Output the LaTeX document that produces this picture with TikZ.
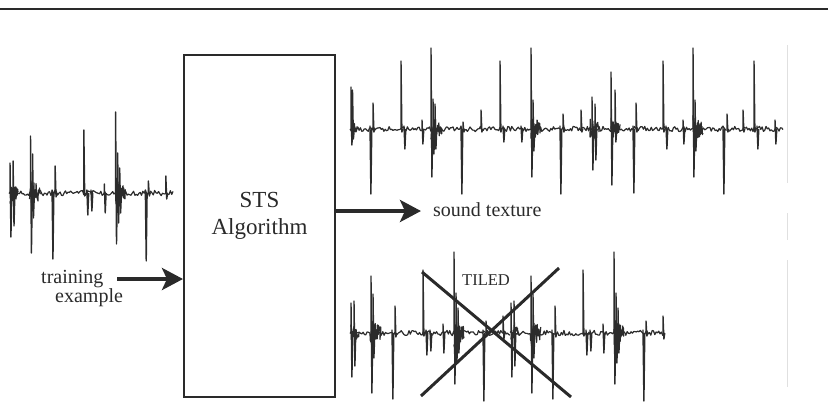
\documentclass[tikz,border=0pt]{standalone}
\usepackage{fontspec}
\setmainfont{Liberation Serif}
\usetikzlibrary{arrows.meta}
\definecolor{ink}{HTML}{2A2A2A}
\definecolor{wv}{HTML}{2C2C2C}
\newcommand\wnoise[4]{%
  \pgfmathtruncatemacro\wns{((#2)-(#1))/1.3}%
  \draw[wave] plot[domain=#1:#2, samples=\wns] (\x,{#3+#4*rand});}
\newcommand\wburst[4]{%
  \pgfmathsetmacro\wbe{#1+#3}%
  \pgfmathtruncatemacro\wnb{#3/0.3}%
  \draw[wave] plot[domain=#1:\wbe, samples=\wnb] (\x,{#2+#4*(1-0.6*(\x-#1)/#3)*rand});}
\newcommand\wspk[4]{\draw[spk] (#1,#2) -- (#1,#2-#3) -- (#1+0.9,#2+#4) -- (#1+1.8,#2);}
\newcommand\trainwave[4]{%
  \pgfmathsetmacro\twe{#1+#4}%
  \wnoise{#1}{\twe}{#2}{2.6}%
  \foreach \bx/\bw/\ba in {1/8/11,20/11/15,104/10/15}{%
    \pgfmathsetmacro\bxx{#1+\bx/160*#3}\wburst{\bxx}{#2}{\bw}{\ba}}%
  \foreach \sx/\su/\sd in {1/30/44, 4/32/33, 21/57/60, 23/39/25, 42/3/66, 45/27/4,
      73/63/3, 76/3/22, 80/3/18, 93/9/20, 104/81/51, 106/40/30, 108/25/20,
      133/3/68, 136/12/3, 153/17/6}{%
    \pgfmathsetmacro\sxx{#1+\sx/160*#3}\wspk{\sxx}{#2}{\su}{\sd}}%
}
\begin{document}
\begin{tikzpicture}[x=1pt,y=-1pt,
  wave/.style={wv,line width=1.2pt,line join=round},
  spk/.style={wv,line width=1.4pt,line join=round},
  rule/.style={ink,line width=1.3pt},
  algbox/.style={draw=ink,line width=2pt,minimum width=151pt,minimum height=342pt,inner sep=0pt},
  bigarrow/.style={ink,line width=4pt,-{Stealth[length=21pt,width=22pt,inset=5pt]}},
  lbl/.style={ink,inner sep=0pt,font=\fontsize{20}{20}\selectfont},
  biglbl/.style={ink,inner sep=0pt,font=\fontsize{23}{23}\selectfont},
  smalllbl/.style={ink,inner sep=0pt,font=\fontsize{16.5}{16.5}\selectfont},
  cross/.style={ink,line width=3pt},
  faint/.style={black!12,line width=0.8pt}]
\useasboundingbox (0,0) rectangle (828,410);
\pgfmathsetseed{7}
% top rule
\draw[rule] (0,9) -- (828,9);
% algorithm box
\node[algbox] (alg) at (259.5,226) {};
\node[biglbl,anchor=base] (sts) at (259.5,207) {STS};
\node[biglbl,anchor=base] (algo) at (259.5,234) {Algorithm};
% training example
\trainwave{9}{193}{164}{164}
\node[lbl,anchor=base west] (trn) at (41,283) {training};
\node[lbl,anchor=base west] (exm) at (55,302) {example};
\coordinate (tstart) at (117,279);
\draw[bigarrow] (tstart) -- (alg.west |- tstart);
% sound texture
\coordinate (send) at (421,211);
\draw[bigarrow] (alg.east |- send) -- (send);
\node[lbl,anchor=base west] (snd) at (433,216) {sound texture};
% top waveform
\wnoise{350}{783}{129}{2.6}
\foreach \bx/\bw/\ba in {351/6/10,431/11/14,531/10/14,590/9/14,611/9/12,693/10/14}{\wburst{\bx}{129}{\bw}{\ba}}
\foreach \sx/\su/\sd in {351/42/16, 352.5/39/10, 370/3/65, 373/26/3, 401/68/3, 404/3/20,
    422/9/15, 431/81/48, 433/30/25, 435/25/20, 461/3/65, 463/7/3, 481/19/3, 500/68/3,
    503/3/13, 521/3/13, 531/81/48, 533/29/22, 560/3/65, 563/15/3, 581/19/3, 592/32/41,
    595/25/31, 611/57/56, 615/39/13, 633/3/64, 636/26/3, 663/68/3, 666/3/20, 683/9/15,
    693/81/48, 695/29/22, 723/3/65, 727/15/3, 743/19/3, 754/68/3, 757/3/20, 775/9/15}{%
  \wspk{\sx}{129}{\su}{\sd}}
% bottom (tiled) waveform
\trainwave{350}{333}{160}{160}
\trainwave{510}{333}{160}{154}
\draw[cross] (422,272) -- (571,397);
\draw[cross] (559,268) -- (421,396);
\node[smalllbl,anchor=base west] (tiled) at (462,285) {TILED};
% faint scan edges
\draw[faint] (787,45) -- (787,183);
\draw[faint] (787,213) -- (787,240);
\draw[faint] (787,260) -- (787,387);
\end{tikzpicture}
\end{document}
